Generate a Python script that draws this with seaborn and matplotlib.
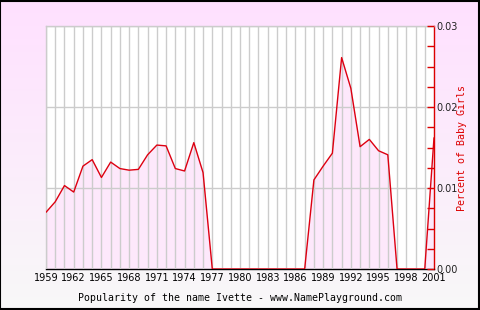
import numpy as np
import pandas as pd
import matplotlib
matplotlib.use("Agg")
import matplotlib.pyplot as plt
import seaborn as sns
from matplotlib.colors import LinearSegmentedColormap

years = list(range(1959, 2002))
values = [0.0070, 0.0083, 0.0103, 0.0095, 0.0127, 0.0135, 0.0113, 0.0132, 0.0124, 0.0122,
          0.0123, 0.0141, 0.0153, 0.0152, 0.0124, 0.0121, 0.0156, 0.0119, 0.0, 0.0,
          0.0, 0.0, 0.0, 0.0, 0.0, 0.0, 0.0, 0.0, 0.0, 0.0110,
          0.0127, 0.0143, 0.0261, 0.0223, 0.0151, 0.0160, 0.0146, 0.0141, 0.0, 0.0,
          0.0, 0.0, 0.0162]
xtick_labels = [str(y) for y in range(1959, 2002, 3)]
title = "Popularity of the name Ivette - www.NamePlayground.com"
ylabel = "Percent of Baby Girls"

df = pd.DataFrame({"year": years, "pct": values})

sns.set_style("white")
plt.rcParams['font.family'] = ['DejaVu Sans']

fig = plt.figure(figsize=(4.8, 3.1), dpi=100)

# gradient background
bg = fig.add_axes([0, 0, 1, 1], zorder=-10)
grad = np.linspace(0, 1, 256).reshape(-1, 1)
cmap = LinearSegmentedColormap.from_list("bg", ["#FFE0FF", "#F8F8F8"])
bg.imshow(grad, aspect="auto", cmap=cmap, extent=[0, 1, 0, 1], origin="upper")
bg.set_xlim(0, 1); bg.set_ylim(0, 1)
bg.axis("off")
bg.add_patch(plt.Rectangle((0.001, 0.002), 0.997, 0.995, fill=False, edgecolor="black",
                           linewidth=1.5, transform=bg.transAxes))

ax = fig.add_axes([46/480, 1-269/310, (434-46)/480, (269-26)/310])
ax.set_facecolor("white")
ax.fill_between(df["year"], df["pct"], 0, color="#FDE8FB", zorder=1, linewidth=0)
sns.lineplot(data=df, x="year", y="pct", ax=ax, color="#DD0011", linewidth=1.0, zorder=3)

ax.set_xlim(1959, 2001)
ax.set_ylim(0, 0.03)
ax.set_xticks(years, minor=True)
ax.set_xticks(list(range(1959, 2002, 3)))
ax.set_xticklabels(xtick_labels)
ax.grid(True, which="both", axis="x", color="#CCCCCC", linewidth=1, zorder=2)
ax.set_yticks([0, 0.01, 0.02, 0.03])
ax.set_yticks(np.arange(0, 0.0301, 0.0025), minor=True)
ax.grid(True, which="major", axis="y", color="#CCCCCC", linewidth=1, zorder=2)
ax.set_axisbelow(False)
for l in ax.get_xgridlines() + ax.get_ygridlines():
    l.set_zorder(2)

ax.yaxis.tick_right()
ax.yaxis.set_label_position("right")
ax.set_yticklabels(["0.00", "0.01", "0.02", "0.03"])
ax.tick_params(axis="y", which="both", direction="in", colors="#DD0000", length=5,
               width=1, labelcolor="#222222", labelsize=7, pad=2)
ax.tick_params(axis="x", which="both", direction="in", colors="black", length=5,
               width=1, labelsize=7, pad=3)
ax.set_ylabel(ylabel, color="#DD0000", fontsize=7.2, family="DejaVu Sans Mono", labelpad=-1)
ax.set_xlabel(title, color="black", fontsize=7.1, family="DejaVu Sans Mono", labelpad=7)

for s in ["top", "left"]:
    ax.spines[s].set_color("#CCCCCC")
    ax.spines[s].set_linewidth(1)
ax.spines["right"].set_color("#DD0000")
ax.spines["right"].set_linewidth(1)
ax.spines["bottom"].set_color("black")
ax.spines["bottom"].set_linewidth(1)

fig.savefig("out.png", dpi=100)
